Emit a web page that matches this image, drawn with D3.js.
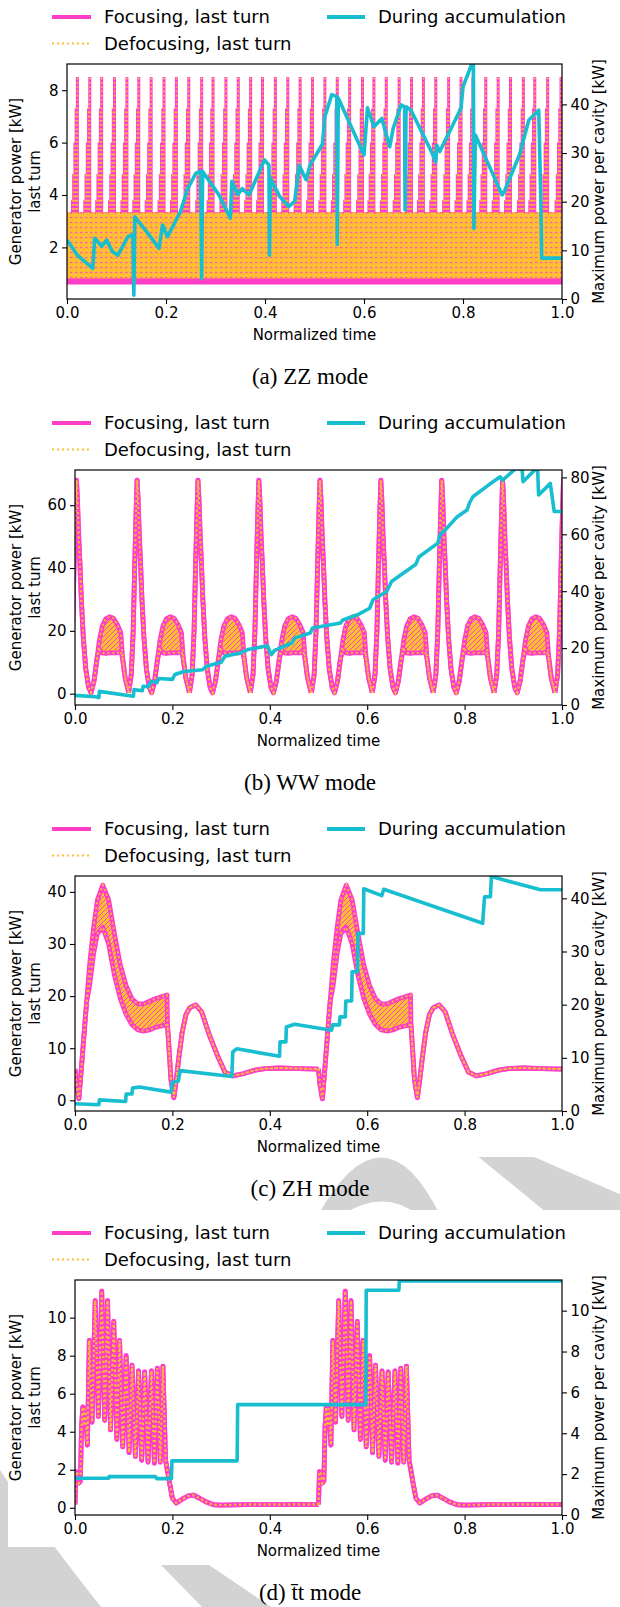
<!DOCTYPE html>
<meta charset="utf-8">
<head>
<script src="https://cdn.jsdelivr.net/npm/d3@7"></script>
<style>
  body { margin: 0; background: #fff; }
  svg { display: block; }
</style>
</head>
<body>
<div id="fig"></div>
<script>

// ---------- values ----------
var xTicks = [0, 0.2, 0.4, 0.6, 0.8, 1.0];
var legendLabels = ["Focusing, last turn", "Defocusing, last turn", "During accumulation"];
var captions = ["(a) ZZ mode", "(b) WW mode", "(c) ZH mode", "(d) t\u0304t mode"];
var leftLabel = ["Generator power [kW]", "last turn"];
var rightLabel = "Maximum power per cavity [kW]";
var xLabel = "Normalized time";

// (a) ZZ
var zzLeftDomain = [0.03, 9.0], zzLeftTicks = [2, 4, 6, 8];
var zzRightDomain = [0, 48.3], zzRightTicks = [0, 10, 20, 30, 40];
var zzSpikeT = [0.021,0.046,0.070,0.096,0.121,0.145,0.170,0.196,0.221,0.246,
                0.272,0.295,0.321,0.346,0.371,0.395,0.421,0.446,0.471,0.496,
                0.521,0.546,0.571,0.597,0.620,0.645,0.671,0.696,0.720,0.745,
                0.771,0.796,0.820,0.846,0.871,0.896,0.922,0.945,0.971,0.998];
var zzTierDt = [-0.0100, -0.0075, -0.0050, -0.0025, 0];
var zzTierV = [3.8, 4.8, 6.0, 7.3, 8.5];
var zzBandT = [0, 1], zzBandLo = [0.7, 0.7], zzBandHi = [3.35, 3.35];
var zzCyanT = [0.000,0.021,0.052,0.056,0.070,0.080,0.092,0.103,0.123,0.133,0.135,0.137,0.158,0.186,0.193,0.203,
               0.229,0.244,0.260,0.270,0.272,0.274,0.307,0.330,0.333,0.345,0.354,0.368,0.399,0.408,0.409,0.411,
               0.430,0.448,0.460,0.469,0.483,0.491,0.516,0.521,0.535,0.545,0.546,0.548,0.600,0.607,0.620,0.636,
               0.652,0.659,0.675,0.682,0.683,0.685,0.695,0.738,0.745,0.747,0.753,0.796,0.800,0.818,0.821,0.822,
               0.825,0.879,0.883,0.914,0.933,0.953,0.957,0.959,1.000];
var zzCyanV = [12.1,9.0,6.3,12.5,10.8,12.1,9.7,9.0,12.8,13.2,0.8,16.9,14.2,10.4,15.2,12.8,
               17.9,22.7,25.8,26.3,4.2,26.2,21.4,16.6,24.2,21.5,22.7,21.4,28.6,27.5,9.0,24.8,
               21.0,19.0,20.1,27.5,24.5,27.5,31.8,37.5,42.0,41.6,11.2,41.3,29.6,39.3,35.4,37.1,
               31.3,35.1,39.9,39.5,18.3,39.5,38.8,29.9,28.2,31.6,30.3,39.2,43.6,48.4,48.4,14.5,
               33.7,21.4,22.0,29.6,36.8,38.8,21.4,8.4,8.4];

// (b) WW
var wwLeftDomain = [-3.6, 71.2], wwLeftTicks = [0, 20, 40, 60];
var wwRightDomain = [0, 82.6], wwRightTicks = [0, 20, 40, 60, 80];
var wwSpikeT = [0.003, 0.1275, 0.2525, 0.3775, 0.503, 0.628, 0.753, 0.878, 1.003];
var wwProfDt = [-0.0175,-0.012,-0.008,-0.005,-0.002,0.000,0.002,0.004,0.007,0.010,0.014,0.019,0.025,
                0.030,0.036,0.042,0.047,0.053,0.060,0.068,0.076,0.084,0.091,0.095,0.100,0.1075];
var wwProfHi = [0.3,6,20,40,58,68,62,54,42,30,18,8,2,0.3,4,11,17,21.5,23.8,24.5,24,22,19.5,11,5,0.3];
var wwProfLo = [0.3,6,20,40,58,68,62,50,42,30,18,8,2,0.3,4,11,14,13,12.8,13,13,13,13.5,11,5,0.3];
var wwCyanT = [0.000,0.042,0.049,0.050,0.120,0.121,0.138,0.140,0.150,0.157,0.168,0.172,0.200,0.205,0.224,
               0.262,0.270,0.300,0.308,0.340,0.355,0.395,0.403,0.410,0.445,0.452,0.483,0.488,0.525,0.545,
               0.550,0.580,0.605,0.612,0.640,0.650,0.700,0.706,0.745,0.750,0.760,0.785,0.805,0.810,0.817,
               0.849,0.873,0.878,0.905,0.918,0.920,0.944,0.950,0.952,0.976,0.984,1.000];
var wwCyanV = [3.4,2.9,2.6,4.8,3.1,5.4,5.0,6.6,6.4,8.4,7.8,9.3,9.0,10.7,11.8,
               12.4,13.6,15.0,17.1,18.3,19.5,20.8,17.7,19.2,21.8,23.6,25.3,27.1,28.2,28.8,
               29.9,31.7,34.0,37.0,39.9,43.4,49.5,52.0,56.9,60.0,61.5,66.2,68.5,71.0,73.2,
               77.3,80.2,79.0,83.1,83.1,78.5,82.6,82.6,73.8,77.9,68.0,68.0];

// (c) ZH
var zhLeftDomain = [-2.05, 43.05], zhLeftTicks = [0, 10, 20, 30, 40];
var zhRightDomain = [0, 44.2], zhRightTicks = [0, 10, 20, 30, 40];
var zhStarts = [0, 0.5];
var zhProfDt = [0.000,0.003,0.008,0.013,0.018,0.024,0.030,0.038,0.046,0.057,0.069,0.081,0.093,0.105,
                0.117,0.129,0.141,0.153,0.165,0.189,0.190,0.1935,0.197,0.203,0.208,0.213,0.220,0.228,
                0.236,0.248,0.260,0.276,0.292,0.308,0.324,0.345,0.370,0.390,0.420,0.460,0.500];
var zhProfHi = [6,3,0.3,6,12,19,26,33,38.5,41.3,38.5,32,26,22,19.5,18.5,18.5,19,19.5,20.2,14.4,9.3,4,
                0.5,4,8,13,16.5,17.8,18.3,17,12.5,8.7,5.4,4.7,5.1,5.8,6.1,6.2,6.1,6.0];
var zhProfLo = [6,3,0.3,6,12,19,22,28,32,33.2,30,24,19.5,16.5,14.5,13.5,13.3,13.5,14,14.5,14.4,9.3,4,
                0.5,4,8,13,16.5,17.8,18.3,17,12.5,8.7,5.4,4.7,5.1,5.8,6.1,6.2,6.1,6.0];
var zhCyanT = [0,0.049,0.050,0.104,0.105,0.117,0.118,0.132,0.197,0.200,0.212,0.216,0.322,0.324,0.332,
               0.420,0.421,0.433,0.434,0.451,0.527,0.529,0.543,0.544,0.555,0.556,0.568,0.569,0.580,0.581,
               0.592,0.593,0.630,0.634,0.837,0.841,0.853,0.855,0.956,1.0];
var zhCyanV = [1.36,1.17,2.1,1.8,3.2,3.2,4.3,4.5,3.55,5.4,5.6,7.6,6.5,11.1,11.7,
               10.3,13.0,13.0,15.8,16.3,15.2,16.2,16.2,17.7,17.7,20.7,20.7,26.2,26.2,33.4,
               33.4,41.8,40.5,41.7,35.3,40.3,40.3,44.1,41.6,41.6];

// (d) ttbar
var ttLeftDomain = [-0.38, 11.98], ttLeftTicks = [0, 2, 4, 6, 8, 10];
var ttRightDomain = [0, 11.5], ttRightTicks = [0, 2, 4, 6, 8, 10];
var ttStarts = [0, 0.5];
var ttProfDt = [0.000,0.002,0.005,0.008,0.011,0.0135,0.016,0.0185,0.0215,0.0255,0.0294,0.035,0.0414,
                0.048,0.0549,0.061,0.0668,0.073,0.0796,0.086,0.0915,0.098,0.105,0.111,0.117,0.124,
                0.1305,0.137,0.143,0.150,0.157,0.163,0.169,0.175,0.1806,0.186,0.195,0.200,0.208,
                0.220,0.232,0.244,0.256,0.270,0.285,0.300,0.350,0.500];
var ttProfV = [0.17,1.9,1.8,1.3,1.4,4.3,5.3,4.3,5.2,3.3,8.8,4.5,10.9,4.8,11.4,4.6,10.9,4.1,9.8,3.6,
               8.8,3.2,8.0,2.9,7.5,2.7,7.2,2.5,7.15,2.4,7.2,2.35,7.35,2.4,7.45,2.5,1.2,0.5,0.25,
               0.45,0.62,0.66,0.5,0.3,0.16,0.14,0.17,0.17];
var ttCyanT = [0,0.069,0.070,0.165,0.168,0.198,0.199,0.333,0.334,0.597,0.598,0.665,0.666,1.0];
var ttCyanV = [1.8,1.8,1.88,1.88,1.78,1.78,2.65,2.65,5.4,5.4,11.0,11.0,11.45,11.45];

// ---------- drawing ----------
var PINK = "#ff3ec8", ORANGE = "#ffbf33", CYAN = "#17becf", GRAY = "#d3d3d3";
var W = 620, H = 1607, RIGHT = 562, PH = 235;
var FONT = "DejaVu Sans, sans-serif";

var svg = d3.select("#fig").append("svg").attr("width", W).attr("height", H)
    .attr("font-family", FONT);
svg.append("rect").attr("width", W).attr("height", H).attr("fill", "#fff");

var defs = svg.append("defs");
var hatch = defs.append("pattern").attr("id", "hatch").attr("patternUnits", "userSpaceOnUse")
    .attr("width", 5).attr("height", 5);
hatch.append("rect").attr("width", 5).attr("height", 5).attr("fill", ORANGE);
hatch.append("path").attr("d", "M0,5 L5,0").attr("stroke", PINK).attr("stroke-width", 1);
var dots = defs.append("pattern").attr("id", "dots").attr("patternUnits", "userSpaceOnUse")
    .attr("width", 5).attr("height", 5);
dots.append("rect").attr("width", 5).attr("height", 5).attr("fill", ORANGE);
dots.append("path").attr("d", "M0,3 Q1.2,1.5 2.5,3").attr("fill", "none").attr("stroke", PINK).attr("stroke-width", 1);

// watermark, seen only in the gaps between the sub-figures
var wm = svg.append("g").attr("fill", GRAY);
wm.append("path").attr("fill-rule", "evenodd")
  .attr("d", "M318,1215 Q383,1100 440,1215 Z M342,1215 Q384,1188 418,1215 Z");
wm.append("path").attr("d", "M470,1150 L518,1150 L640,1203 L640,1240 L580,1240 Z");
wm.append("path").attr("d", "M0,1470 Q40,1530 101,1607 L0,1607 Z");
wm.append("path").attr("d", "M161,1565 L209,1565 L271,1607 L202,1607 Z");
svg.append("rect").attr("x", 0).attr("y", 0).attr("width", W).attr("height", 1157).attr("fill", "#fff");
svg.append("rect").attr("x", 8).attr("y", 1210).attr("width", W - 8).attr("height", 337).attr("fill", "#fff");

function drawZZ(g, x, y) {
  var band = d3.zip(zzBandT, zzBandLo, zzBandHi);
  g.append("path").datum(band)
    .attr("d", d3.area().x(d => x(d[0])).y0(d => y(d[1])).y1(d => y(d[2])))
    .attr("fill", "url(#dots)");
  g.append("path").datum(band)
    .attr("d", d3.line().x(d => x(d[0])).y(d => y(d[1])))
    .attr("fill", "none").attr("stroke", PINK).attr("stroke-width", 6);
  var tiers = [];
  zzSpikeT.forEach(function(s) {
    zzTierDt.forEach(function(dt, j) { tiers.push([s + dt, zzTierV[j]]); });
  });
  g.selectAll("line.tp").data(tiers).join("line").attr("class", "tp")
    .attr("x1", d => x(d[0])).attr("x2", d => x(d[0]))
    .attr("y1", y(zzBandHi[0]) + 2).attr("y2", d => y(d[1]))
    .attr("stroke", PINK).attr("stroke-width", 3);
  g.selectAll("line.to").data(tiers).join("line").attr("class", "to")
    .attr("x1", d => x(d[0])).attr("x2", d => x(d[0]))
    .attr("y1", y(zzBandHi[0]) + 2).attr("y2", d => y(d[1]))
    .attr("stroke", ORANGE).attr("stroke-width", 1.6).attr("stroke-dasharray", "1.6,2.6");
}

function drawProfile(g, x, y, starts, dt, lo, hi) {
  var sets = starts.map(s => dt.map((d, i) => [s + d, lo[i], hi[i]]));
  sets.forEach(function(pts) {
    g.append("path").datum(pts)
      .attr("d", d3.area().x(d => x(d[0])).y0(d => y(d[1])).y1(d => y(d[2])))
      .attr("fill", "url(#hatch)");
  });
  [1, 2].forEach(function(k) {
    sets.forEach(function(pts) {
      g.append("path").datum(pts)
        .attr("d", d3.line().x(d => x(d[0])).y(d => y(d[k])))
        .attr("fill", "none").attr("stroke", PINK).attr("stroke-width", 4.8)
        .attr("stroke-linejoin", "round");
    });
  });
  [1, 2].forEach(function(k) {
    sets.forEach(function(pts) {
      g.append("path").datum(pts)
        .attr("d", d3.line().x(d => x(d[0])).y(d => y(d[k])))
        .attr("fill", "none").attr("stroke", ORANGE).attr("stroke-width", 1.9)
        .attr("stroke-dasharray", "1.9,3");
    });
  });
}

var panels = [
  {top: 64, left: 67, ld: zzLeftDomain, lt: zzLeftTicks, rd: zzRightDomain, rt: zzRightTicks,
   ct: zzCyanT, cv: zzCyanV, draw: (g, x, y) => drawZZ(g, x, y)},
  {top: 470, left: 75, ld: wwLeftDomain, lt: wwLeftTicks, rd: wwRightDomain, rt: wwRightTicks,
   ct: wwCyanT, cv: wwCyanV, draw: (g, x, y) => drawProfile(g, x, y, wwSpikeT, wwProfDt, wwProfLo, wwProfHi)},
  {top: 876, left: 75, ld: zhLeftDomain, lt: zhLeftTicks, rd: zhRightDomain, rt: zhRightTicks,
   ct: zhCyanT, cv: zhCyanV, draw: (g, x, y) => drawProfile(g, x, y, zhStarts, zhProfDt, zhProfLo, zhProfHi)},
  {top: 1280, left: 75, ld: ttLeftDomain, lt: ttLeftTicks, rd: ttRightDomain, rt: ttRightTicks,
   ct: ttCyanT, cv: ttCyanV, draw: (g, x, y) => drawProfile(g, x, y, ttStarts, ttProfDt, ttProfV, ttProfV)}
];

panels.forEach(function(p, i) {
  var bottom = p.top + PH;
  var x = d3.scaleLinear().domain([0, 1]).range([p.left, RIGHT]);
  var yL = d3.scaleLinear().domain(p.ld).range([bottom, p.top]);
  var yR = d3.scaleLinear().domain(p.rd).range([bottom, p.top]);
  var g = svg.append("g");

  defs.append("clipPath").attr("id", "clip" + i).append("rect")
    .attr("x", p.left).attr("y", p.top).attr("width", RIGHT - p.left).attr("height", PH);
  var plot = g.append("g").attr("clip-path", "url(#clip" + i + ")");
  p.draw(plot, x, yL);
  plot.append("path").datum(d3.zip(p.ct, p.cv))
    .attr("d", d3.line().x(d => x(d[0])).y(d => yR(d[1])))
    .attr("fill", "none").attr("stroke", CYAN).attr("stroke-width", 3.6)
    .attr("stroke-linejoin", "round");

  g.append("rect").attr("x", p.left).attr("y", p.top).attr("width", RIGHT - p.left).attr("height", PH)
    .attr("fill", "none").attr("stroke", "#000").attr("stroke-width", 1.2);

  function styleAxis(a) {
    a.select(".domain").remove();
    a.attr("font-size", 15).attr("font-family", FONT);
    a.selectAll("line").attr("stroke-width", 1.1);
  }
  g.append("g").attr("transform", "translate(0," + bottom + ")")
    .call(d3.axisBottom(x).tickValues(xTicks).tickFormat(d3.format(".1f")).tickSize(5).tickPadding(3.5))
    .call(styleAxis);
  g.append("g").attr("transform", "translate(" + p.left + ",0)")
    .call(d3.axisLeft(yL).tickValues(p.lt).tickFormat(d3.format("d")).tickSize(5).tickPadding(3.5))
    .call(styleAxis);
  g.append("g").attr("transform", "translate(" + RIGHT + ",0)")
    .call(d3.axisRight(yR).tickValues(p.rt).tickFormat(d3.format("d")).tickSize(5).tickPadding(3.5))
    .call(styleAxis);

  var cy = p.top + PH / 2;
  leftLabel.forEach(function(t, k) {
    g.append("text").attr("transform", "translate(" + (16 + k * 19) + "," + cy + ") rotate(-90)")
      .attr("text-anchor", "middle").attr("dy", "0.35em").attr("font-size", 15).text(t);
  });
  g.append("text").attr("transform", "translate(599," + cy + ") rotate(-90)")
    .attr("text-anchor", "middle").attr("dy", "0.35em").attr("font-size", 15).text(rightLabel);
  g.append("text").attr("x", (p.left + RIGHT) / 2).attr("y", bottom + 35.5)
    .attr("text-anchor", "middle").attr("dy", "0.35em").attr("font-size", 15).text(xLabel);

  // legend
  var y1 = p.top - 47, y2 = p.top - 20.5;
  g.append("line").attr("x1", 52).attr("x2", 91).attr("y1", y1).attr("y2", y1)
    .attr("stroke", PINK).attr("stroke-width", 4);
  g.append("line").attr("x1", 52).attr("x2", 91).attr("y1", y2).attr("y2", y2)
    .attr("stroke", ORANGE).attr("stroke-width", 2).attr("stroke-dasharray", "2,3");
  g.append("line").attr("x1", 327).attr("x2", 365).attr("y1", y1).attr("y2", y1)
    .attr("stroke", CYAN).attr("stroke-width", 4);
  [[104, y1, 0], [104, y2, 1], [378, y1, 2]].forEach(function(l) {
    g.append("text").attr("x", l[0]).attr("y", l[1]).attr("dy", "0.35em")
      .attr("font-size", 18).text(legendLabels[l[2]]);
  });

  g.append("text").attr("x", 310).attr("y", bottom + 77).attr("dy", "0.35em")
    .attr("text-anchor", "middle").attr("font-family", "Liberation Serif, Times New Roman, serif")
    .attr("font-size", 23).text(captions[i]);
});
</script>
</body>
</html>
